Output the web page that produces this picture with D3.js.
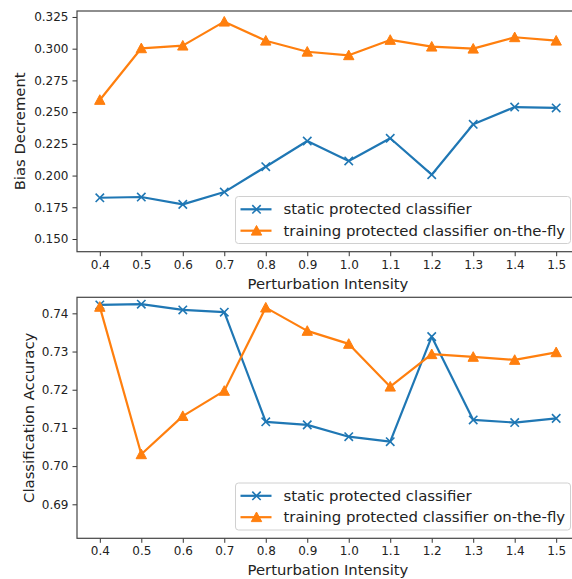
<!DOCTYPE html>
<html><head><meta charset="utf-8">
<script src="https://cdn.jsdelivr.net/npm/d3@7"></script>
<style>body{margin:0;background:#fff}svg{display:block}text{font-family:"DejaVu Sans",sans-serif}</style>
</head><body><svg id="c" width="572" height="579"></svg>
<script>
const intensity = [0.4,0.5,0.6,0.7,0.8,0.9,1.0,1.1,1.2,1.3,1.4,1.5];
const xTicks = intensity;
const seriesNames = ["static protected classifier","training protected classifier on-the-fly"];
const biasStatic = [0.1825,0.1831,0.1773,0.1870,0.2070,0.2272,0.2115,0.2294,0.2007,0.2404,0.2540,0.2533];
const biasTraining = [0.2596,0.3003,0.3024,0.3213,0.3063,0.2976,0.2948,0.3069,0.3016,0.3000,0.3090,0.3063];
const accStatic = [0.7422,0.7424,0.7409,0.7403,0.7116,0.7108,0.7077,0.7064,0.7339,0.7121,0.7114,0.7125];
const accTraining = [0.7417,0.7031,0.7131,0.7197,0.7415,0.7354,0.7320,0.7208,0.7293,0.7286,0.7278,0.7298];
const biasTicks = [0.150,0.175,0.200,0.225,0.250,0.275,0.300,0.325];
const accTicks = [0.69,0.70,0.71,0.72,0.73,0.74];

const colors = ["#1f77b4","#ff7f0e"];
const svg = d3.select("#c");
const x = d3.scaleLinear().domain([0.345,1.555]).range([77,579]);

function panel(cfg){
  const y = d3.scaleLinear().domain(cfg.ydom).range([cfg.bottom,cfg.top]);
  const g = svg.append("g");
  const xa = g.append("g").attr("transform",`translate(0,${cfg.bottom})`)
    .call(d3.axisBottom(x).tickValues(xTicks).tickFormat(d3.format(".1f")).tickSizeOuter(0).tickSize(4.5).tickPadding(4));
  const ya = g.append("g").attr("transform",`translate(77,0)`)
    .call(d3.axisLeft(y).tickValues(cfg.yticks).tickFormat(d3.format(cfg.yfmt)).tickSizeOuter(0).tickSize(4.5).tickPadding(4));
  [xa,ya].forEach(a=>{
    a.select(".domain").remove();
    a.selectAll("line").attr("stroke","#333").attr("stroke-width",1);
    a.selectAll("text").attr("font-size",12).attr("fill","#222");
  });
  g.append("rect").attr("x",77).attr("y",cfg.top).attr("width",600).attr("height",cfg.bottom-cfg.top)
    .attr("fill","none").attr("stroke","#444").attr("stroke-width",1.2);
  const data = [cfg.s1,cfg.s2];
  data.forEach((vals,i)=>{
    const line = d3.line().x((d,j)=>x(intensity[j])).y(d=>y(d));
    g.append("path").datum(vals).attr("d",line).attr("fill","none").attr("stroke",colors[i]).attr("stroke-width",2.2).attr("stroke-linejoin","round");
    vals.forEach((v,j)=>drawMarker(g,i,x(intensity[j]),y(v)));
  });
  g.append("text").attr("x",(77+579)/2).attr("y",cfg.bottom+37).attr("text-anchor","middle").attr("font-size",14.8).attr("fill","#222").text("Perturbation Intensity");
  g.append("text").attr("transform",`translate(${cfg.ylx},${(cfg.top+cfg.bottom)/2}) rotate(-90)`).attr("text-anchor","middle").attr("dominant-baseline","central").attr("font-size",14.8).attr("fill","#222").text(cfg.ylabel);
  const lg = g.append("g");
  lg.append("rect").attr("x",235.5).attr("y",cfg.legTop).attr("width",335).attr("height",47).attr("rx",3)
    .attr("fill","#fff").attr("fill-opacity",0.85).attr("stroke","#d0d0d0");
  seriesNames.forEach((n,i)=>{
    const yy = cfg.legTop+12.8+i*21.4;
    lg.append("line").attr("x1",240.5).attr("x2",271.5).attr("y1",yy).attr("y2",yy).attr("stroke",colors[i]).attr("stroke-width",2.2);
    drawMarker(lg,i,256.5,yy);
    lg.append("text").attr("x",283.5).attr("y",yy).attr("dominant-baseline","central").attr("font-size",14.9).attr("fill","#222").text(n);
  });
}
function drawMarker(g,i,cx,cy){
  if(i===0){
    const r=4.2;
    g.append("path").attr("d",`M${cx-r},${cy-r}L${cx+r},${cy+r}M${cx-r},${cy+r}L${cx+r},${cy-r}`)
      .attr("stroke",colors[0]).attr("stroke-width",1.6).attr("fill","none");
  } else {
    const r=5.2;
    g.append("path").attr("d",`M${cx},${cy-r}L${cx+r},${cy+r*0.85}L${cx-r},${cy+r*0.85}Z`)
      .attr("fill",colors[1]).attr("stroke",colors[1]).attr("stroke-width",1);
  }
}
panel({top:11,bottom:251.7,ydom:[0.140,0.3297],yticks:biasTicks,yfmt:".3f",s1:biasStatic,s2:biasTraining,ylabel:"Bias Decrement",ylx:19,legTop:196.5});
panel({top:297.3,bottom:538.3,ydom:[0.6811,0.7442],yticks:accTicks,yfmt:".2f",s1:accStatic,s2:accTraining,ylabel:"Classification Accuracy",ylx:28,legTop:483});
</script></body></html>
